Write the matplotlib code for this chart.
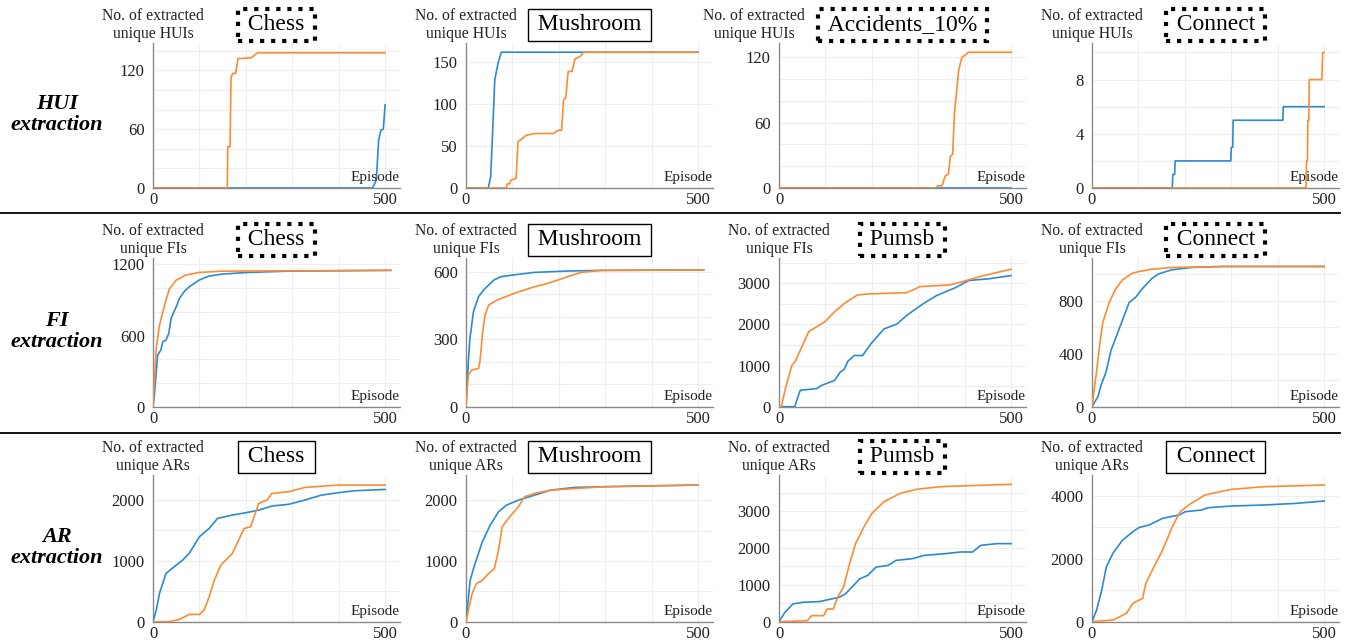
import matplotlib
matplotlib.use('Agg')
import matplotlib.pyplot as plt
from matplotlib.lines import Line2D

plt.rcParams['font.family'] = ['Liberation Serif', 'DejaVu Serif']

BLUE = '#2b8ad1'
ORANGE = '#fd8b34'

# ---------------- HUI extraction ----------------
hui_chess_bx = [0, 473, 481, 486, 491, 496, 500]
hui_chess_by = [0, 0, 8, 49, 59, 60, 85]
hui_chess_ox = [0, 160, 161, 166, 168, 172, 178, 183, 212, 225, 500]
hui_chess_oy = [0, 0, 42, 42, 113, 117, 117, 132, 133, 138, 138]

hui_mush_bx = [0, 48, 53, 56, 62, 69, 76, 500]
hui_mush_by = [0, 0, 13, 49, 129, 149, 162, 162]
hui_mush_ox = [0, 87, 89, 94, 97, 108, 112, 119, 130, 148, 188, 199, 206, 210, 215, 220, 228, 235, 246, 253, 500]
hui_mush_oy = [0, 0, 5, 5, 9.5, 11.5, 55, 58, 63, 65, 65, 69, 69, 105, 108, 139, 139, 154, 157, 162, 162]

hui_acc_bx = [0, 500]
hui_acc_by = [0, 0]
hui_acc_ox = [0, 338, 342, 351, 358, 365, 369, 374, 378, 387, 394, 401, 408, 500]
hui_acc_oy = [0, 0, 2, 2, 11, 13, 29, 31, 69, 108, 120, 122, 124.5, 124.5]

hui_conn_bx = [0, 173, 174, 178, 179, 299, 300, 303, 304, 411, 412, 500]
hui_conn_by = [0, 0, 1, 1, 2, 2, 3, 3, 5, 5, 6, 6]
hui_conn_ox = [0, 461, 462, 464, 465, 467, 468, 495, 497, 500]
hui_conn_oy = [0, 0, 2, 2, 5, 5, 8, 8, 10, 10]

# ---------------- FI extraction ----------------
fi_chess_bx = [0, 3, 10, 17, 21, 28, 34, 39, 50, 57, 68, 78, 99, 120, 148, 204, 289, 512]
fi_chess_by = [0, 100, 435, 478, 548, 562, 618, 745, 843, 913, 975, 1011, 1067, 1101, 1118, 1132, 1143, 1150]
fi_chess_ox = [0, 3.5, 7, 14, 25, 35, 50, 70, 99, 148, 512]
fi_chess_oy = [0, 267, 492, 688, 857, 991, 1067, 1109, 1132, 1143, 1150]

fi_mush_bx = [0, 5, 8.5, 16, 27, 38, 49, 60, 75, 111, 147, 219, 292, 512]
fi_mush_by = [0, 200, 304, 422, 489, 519, 541, 563, 578, 588, 597, 603, 606, 608]
fi_mush_ox = [0, 5, 12, 27, 30, 36, 41, 49, 67, 104, 147, 176, 219, 248, 292, 512]
fi_mush_oy = [0, 141, 163, 170, 200, 333, 407, 452, 474, 504, 533, 548, 578, 597, 606, 608]

fi_pumsb_bx = [0, 34, 42, 46, 81, 92, 120, 131, 141, 148, 162, 180, 198, 226, 254, 275, 310, 339, 381, 409, 452, 500]
fi_pumsb_by = [0, 0, 285, 400, 440, 520, 640, 830, 920, 1100, 1245, 1245, 1530, 1890, 2010, 2220, 2500, 2700, 2900, 3070, 3110, 3190]
fi_pumsb_ox = [0, 5, 14, 28, 35, 64, 99, 120, 141, 169, 191, 275, 296, 303, 367, 395, 438, 500]
fi_pumsb_oy = [0, 0, 455, 1014, 1100, 1825, 2068, 2311, 2515, 2717, 2742, 2773, 2880, 2920, 2960, 3041, 3180, 3343]

fi_conn_bx = [0, 13, 20, 30, 41, 55, 69, 80, 94, 108, 129, 143, 171, 213, 280, 500]
fi_conn_by = [0, 78, 168, 259, 426, 556, 685, 788, 827, 891, 969, 1003, 1034, 1052, 1060, 1060]
fi_conn_ox = [0, 9, 16, 23, 37, 51, 65, 86, 100, 128, 171, 297, 500]
fi_conn_oy = [0, 245, 452, 633, 788, 891, 956, 1008, 1021, 1039, 1052, 1060, 1060]

# ---------------- AR extraction ----------------
ar_chess_bx = [0, 7, 14, 28, 50, 64, 78, 100, 121, 139, 171, 200, 228, 256, 292, 327, 363, 398, 434, 500]
ar_chess_by = [0, 190, 466, 794, 930, 1013, 1122, 1396, 1533, 1697, 1752, 1790, 1834, 1900, 1928, 1998, 2080, 2118, 2151, 2173]
ar_chess_ox = [0, 35, 57, 78, 100, 110, 121, 132, 146, 171, 181, 196, 210, 228, 246, 256, 292, 327, 398, 500]
ar_chess_oy = [0, 0, 38, 120, 120, 190, 410, 680, 930, 1120, 1285, 1530, 1560, 1945, 2000, 2107, 2135, 2206, 2244, 2244]

ar_mush_bx = [0, 9, 17, 35, 52, 70, 87, 113, 148, 183, 235, 296, 500]
ar_mush_by = [0, 678, 898, 1311, 1587, 1807, 1917, 2000, 2083, 2165, 2209, 2220, 2248]
ar_mush_ox = [0, 13, 22, 35, 48, 61, 70, 78, 91, 113, 126, 148, 183, 296, 500]
ar_mush_oy = [0, 457, 623, 678, 788, 870, 1174, 1559, 1697, 1890, 2055, 2110, 2165, 2220, 2248]

ar_pumsb_bx = [0, 13, 30, 52, 87, 113, 130, 143, 157, 174, 191, 209, 235, 252, 287, 313, 357, 391, 417, 435, 470, 500]
ar_pumsb_by = [0, 255, 482, 527, 545, 618, 664, 755, 936, 1164, 1255, 1482, 1527, 1664, 1709, 1800, 1845, 1891, 1891, 2073, 2118, 2118]
ar_pumsb_ox = [0, 61, 70, 96, 104, 117, 126, 139, 152, 165, 183, 200, 226, 261, 296, 348, 409, 500]
ar_pumsb_oy = [0, 27, 164, 164, 345, 345, 664, 936, 1573, 2118, 2573, 2936, 3255, 3482, 3591, 3664, 3691, 3727]

ar_conn_bx = [0, 10, 21, 31, 45, 66, 88, 102, 123, 152, 187, 201, 236, 250, 300, 370, 440, 500]
ar_conn_by = [0, 371, 1006, 1746, 2170, 2593, 2857, 2996, 3070, 3281, 3386, 3492, 3545, 3619, 3672, 3704, 3757, 3831]
ar_conn_ox = [0, 45, 60, 74, 88, 109, 116, 130, 152, 173, 190, 208, 243, 300, 370, 500]
ar_conn_oy = [0, 53, 159, 265, 582, 741, 1217, 1640, 2275, 3016, 3492, 3704, 4021, 4201, 4285, 4339]

rows = [
    ('HUIs', [
        ('Chess', True, hui_chess_bx, hui_chess_by, hui_chess_ox, hui_chess_oy, [0, 60, 120], 20, 148),
        ('Mushroom', False, hui_mush_bx, hui_mush_by, hui_mush_ox, hui_mush_oy, [0, 50, 100, 150], 50, 173),
        ('Accidents_10%', True, hui_acc_bx, hui_acc_by, hui_acc_ox, hui_acc_oy, [0, 60, 120], 20, 133),
        ('Connect', True, hui_conn_bx, hui_conn_by, hui_conn_ox, hui_conn_oy, [0, 4, 8], 2, 10.7),
    ]),
    ('FIs', [
        ('Chess', True, fi_chess_bx, fi_chess_by, fi_chess_ox, fi_chess_oy, [0, 600, 1200], 200, 1254),
        ('Mushroom', False, fi_mush_bx, fi_mush_by, fi_mush_ox, fi_mush_oy, [0, 300, 600], 100, 661),
        ('Pumsb', True, fi_pumsb_bx, fi_pumsb_by, fi_pumsb_ox, fi_pumsb_oy, [0, 1000, 2000, 3000], 500, 3616),
        ('Connect', True, fi_conn_bx, fi_conn_by, fi_conn_ox, fi_conn_oy, [0, 400, 800], 200, 1124),
    ]),
    ('ARs', [
        ('Chess', False, ar_chess_bx, ar_chess_by, ar_chess_ox, ar_chess_oy, [0, 1000, 2000], 500, 2410),
        ('Mushroom', False, ar_mush_bx, ar_mush_by, ar_mush_ox, ar_mush_oy, [0, 1000, 2000], 500, 2413),
        ('Pumsb', True, ar_pumsb_bx, ar_pumsb_by, ar_pumsb_ox, ar_pumsb_oy, [0, 1000, 2000, 3000], 500, 3980),
        ('Connect', False, ar_conn_bx, ar_conn_by, ar_conn_ox, ar_conn_oy, [0, 2000, 4000], 1000, 4657),
    ]),
]
row_labels = ['HUI\nextraction', 'FI\nextraction', 'AR\nextraction']

W, H = 1357, 643
fig = plt.figure(figsize=(W / 100, H / 100), dpi=100)

col_x0 = [153, 466, 779, 1092]
row_top = [43, 258, 475]
row_bot = [188, 406.7, 621.7]
ax_w = 247


def draw_panel(ax, unit, label_shift, title, dotted, bx, by, ox, oy, yticks, ystep, ymax):
    ax.plot(bx, by, color=BLUE, lw=1.2, zorder=3)
    ax.plot(ox, oy, color=ORANGE, lw=1.2, zorder=4)
    ax.set_xlim(0, 532)
    ax.set_ylim(0, ymax)
    ax.set_xticks([0, 500])
    ax.set_xticks(range(100, 501, 100), minor=True)
    ax.set_yticks(yticks)
    ygrid = []
    v = ystep
    while v < ymax:
        ygrid.append(v)
        v += ystep
    ax.set_yticks(ygrid, minor=True)
    ax.grid(which='both', color='#eeeeee', lw=0.8, zorder=0)
    ax.tick_params(which='both', length=0, labelsize=12, colors='#222222')
    ax.tick_params(axis='x', pad=3)
    ax.tick_params(axis='y', pad=6)
    for s in ['top', 'right']:
        ax.spines[s].set_visible(False)
    for s in ['left', 'bottom']:
        ax.spines[s].set_color('#8a8a8a')
        ax.spines[s].set_linewidth(1.0)
    ax.text(1.0, 0.025, 'Episode', transform=ax.transAxes, ha='right',
            va='bottom', fontsize=11, color='#222222', zorder=6)
    ax.annotate('No. of extracted\nunique ' + unit, xy=(0, 1), xycoords='axes fraction',
                xytext=(label_shift, 13), textcoords='offset points', ha='center', va='center',
                fontsize=11.3, linespacing=1.15, color='#222222')
    ax.annotate('\u2009' + title + '\u2009', xy=(0.5, 1), xycoords='axes fraction',
                xytext=(0, 13), textcoords='offset points', ha='center', va='center',
                fontsize=17, color='black',
                bbox=dict(boxstyle='square,pad=0.22', fc='white', ec='black',
                          lw=3.0 if dotted else 1.0, ls=':' if dotted else '-'))


for r, (unit, panels) in enumerate(rows):
    for c, p in enumerate(panels):
        left = col_x0[c] / W
        bottom = 1 - row_bot[r] / H
        height = (row_bot[r] - row_top[r]) / H
        ax = fig.add_axes([left, bottom, ax_w / W, height])
        shift = -18 if (r == 0 and c == 2) else 0
        draw_panel(ax, unit, shift, *p)
    fig.text(57 / W, 1 - ((row_top[r] + row_bot[r]) / 2 - 1) / H, row_labels[r],
             ha='center', va='center', fontsize=16, fontweight='bold',
             fontstyle='italic', linespacing=1.05)

for yy in [213, 433]:
    fig.add_artist(Line2D([0, 1340 / W], [1 - yy / H, 1 - yy / H],
                          transform=fig.transFigure, color='black', lw=1.3))

fig.savefig('out.png', dpi=100)
